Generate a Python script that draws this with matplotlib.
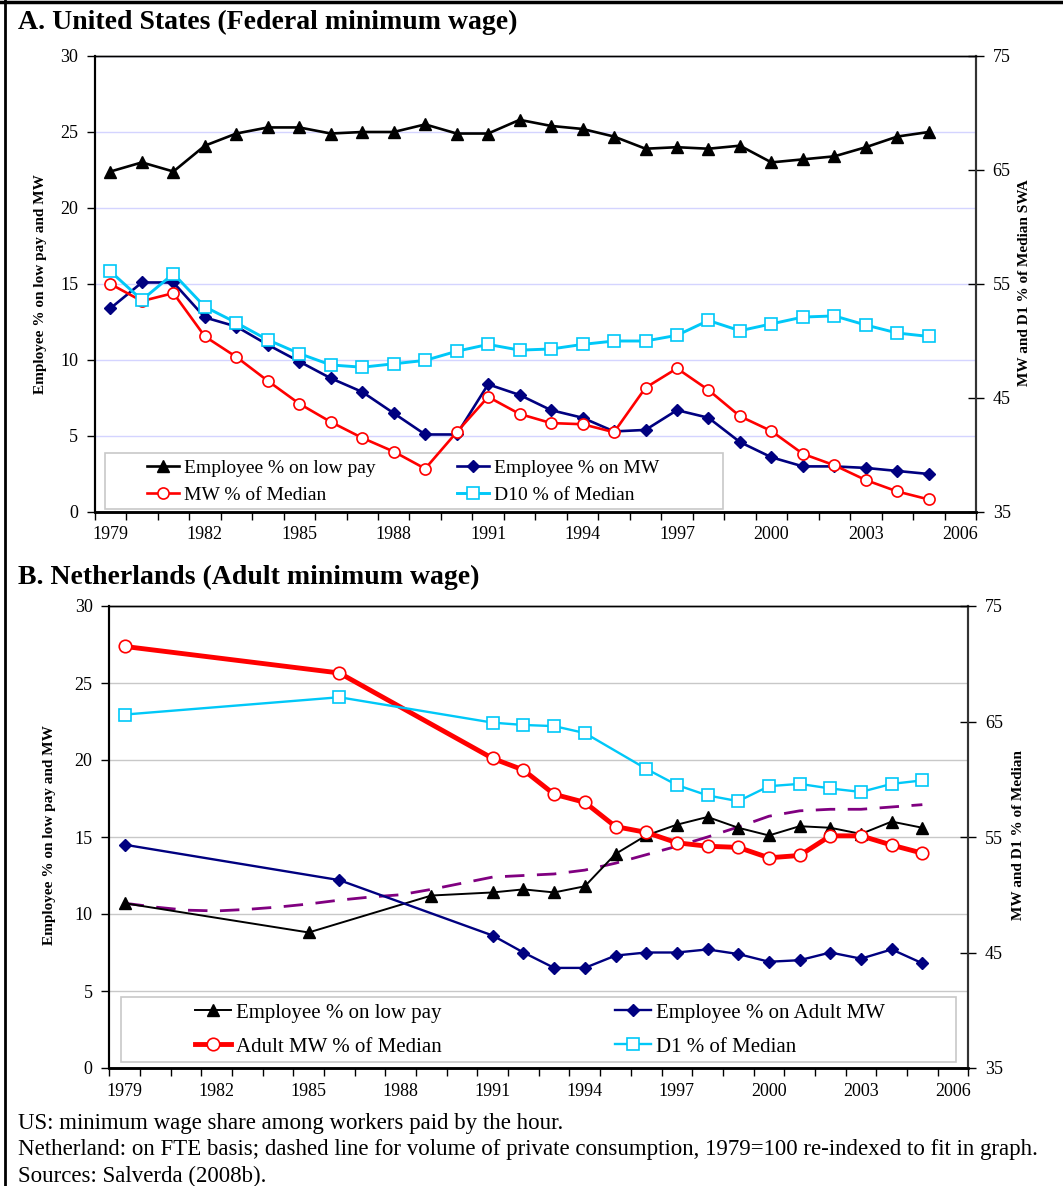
import numpy as np
import matplotlib.pyplot as plt
from matplotlib.lines import Line2D
from matplotlib.patches import Rectangle

plt.rcParams['font.family'] = ['Liberation Serif', 'DejaVu Serif']

# Panel A: United States, 1979-2005
us_years = list(range(1979, 2006))
us_low_pay = [22.4, 23.0, 22.4, 24.1, 24.9, 25.3, 25.3, 24.9, 25.0, 25.0,
              25.5, 24.9, 24.9, 25.8, 25.4, 25.2, 24.7, 23.9, 24.0, 23.9,
              24.1, 23.0, 23.2, 23.4, 24.0, 24.7, 25.0]
us_on_mw = [13.4, 15.1, 15.1, 12.8, 12.2, 11.0, 9.9, 8.8, 7.9, 6.5,
            5.1, 5.1, 8.4, 7.7, 6.7, 6.2, 5.3, 5.4, 6.7, 6.2,
            4.6, 3.6, 3.0, 3.0, 2.9, 2.7, 2.5]
us_mw_median = [55.0, 53.5, 54.2, 50.4, 48.6, 46.5, 44.5, 42.9, 41.5, 40.3,
                38.8, 42.0, 45.1, 43.6, 42.8, 42.7, 42.0, 45.9, 47.6, 45.7,
                43.4, 42.1, 40.1, 39.1, 37.8, 36.8, 36.1]
us_d10_median = [56.1, 53.6, 55.9, 53.0, 51.6, 50.1, 48.9, 47.9, 47.7, 48.0,
                 48.3, 49.1, 49.7, 49.2, 49.3, 49.7, 50.0, 50.0, 50.5, 51.8,
                 50.9, 51.5, 52.1, 52.2, 51.4, 50.7, 50.4]

# Panel B: Netherlands (gaps in the early years)
nl_low_pay_years = [1979, 1985, 1989] + list(range(1991, 2006))
nl_low_pay = [10.7, 8.8, 11.2, 11.4, 11.6, 11.4, 11.8, 13.9, 15.1, 15.8,
              16.3, 15.6, 15.1, 15.7, 15.6, 15.2, 16.0, 15.6]
nl_mw_years = [1979, 1986] + list(range(1991, 2006))
nl_on_mw = [14.5, 12.2, 8.6, 7.5, 6.5, 6.5, 7.3, 7.5, 7.5, 7.7,
            7.4, 6.9, 7.0, 7.5, 7.1, 7.7, 6.8]
nl_mw_median = [71.5, 69.2, 61.8, 60.8, 58.7, 58.0, 55.9, 55.4, 54.5, 54.2,
                54.1, 53.2, 53.4, 55.1, 55.1, 54.3, 53.6]
nl_d1_years = [1979, 1986, 1991, 1992, 1993, 1994] + list(range(1996, 2006))
nl_d1_median = [65.6, 67.1, 64.9, 64.7, 64.6, 64.0, 60.9, 59.5, 58.6, 58.1,
                59.4, 59.6, 59.2, 58.9, 59.6, 59.9]
# private consumption volume, re-indexed onto the left scale
nl_cons_years = list(range(1979, 2006))
nl_consumption = [10.7, 10.45, 10.25, 10.2, 10.3, 10.45, 10.65, 10.9, 11.1, 11.25,
                  11.6, 12.0, 12.4, 12.5, 12.6, 12.85, 13.3, 13.85, 14.4, 15.0,
                  15.65, 16.35, 16.7, 16.8, 16.8, 16.95, 17.1]

year_labels = list(range(1979, 2007, 3))

NAVY, RED, CYAN, PURPLE = '#000080', '#ff0000', '#00c8f8', '#800080'

W, H = 1063, 1186
fig = plt.figure(figsize=(W / 100, H / 100), dpi=100)


def fx(x):
    return x / W


def fy(y):
    return 1 - y / H


def px_rect(x0, y0, x1, y1):
    return [fx(x0), fy(y1), (x1 - x0) / W, (y1 - y0) / H]


def setup_axes(ax, ax2, grid_color, xpad):
    ax.set_xlim(1978.5, 2006.5)
    ax.set_ylim(0, 30)
    ax.set_yticks(range(0, 31, 5))
    ax.set_xticks(year_labels)
    ax.set_xticks(np.arange(1978.5, 2007, 1), minor=True)
    ax.tick_params(axis='x', which='major', length=0, pad=xpad, labelsize=13)
    ax.tick_params(axis='x', which='minor', length=6, width=1, direction='out')
    ax.tick_params(axis='y', length=6, width=1, direction='out', pad=6,
                   labelsize=13)
    ax.grid(axis='y', color=grid_color, lw=1)
    ax.set_axisbelow(True)
    ax2.set_ylim(35, 75)
    ax2.set_yticks(range(35, 76, 10))
    ax2.tick_params(axis='y', length=12, width=1, direction='inout', pad=6,
                    labelsize=13)
    for a in (ax, ax2):
        a.spines['left'].set_linewidth(1.5)
        a.spines['bottom'].set_linewidth(1.8)
        a.spines['right'].set_linewidth(1.5)
        a.spines['right'].set_color('#333333')
        a.spines['top'].set_linewidth(1.0)


def legend_box(ax, x0, y0, x1, y1):
    # white frame sitting under the data lines
    ax.add_patch(Rectangle((fx(x0), fy(y1)), (x1 - x0) / W, (y1 - y0) / H,
                           transform=fig.transFigure, facecolor='white',
                           edgecolor='#c8c8c8', lw=1.2, zorder=1.2,
                           clip_on=False))


# ---------------- Panel A ----------------
axA = fig.add_axes(px_rect(94.7, 56, 976, 512))
axA2 = axA.twinx()
setup_axes(axA, axA2, '#d4d4ff', 10)

lA1, = axA.plot(us_years, us_low_pay, color='black', lw=1.9, marker='^', ms=8,
                label='Employee % on low pay', zorder=3)
lA2, = axA.plot(us_years, us_on_mw, color=NAVY, lw=1.9, marker='D', ms=6,
                label='Employee % on MW', zorder=3)
lA3, = axA2.plot(us_years, us_mw_median, color=RED, lw=1.9, marker='o', ms=8,
                 mfc='white', mec=RED, mew=1.2, label='MW % of Median')
lA4, = axA2.plot(us_years, us_d10_median, color=CYAN, lw=2.1, marker='s', ms=8,
                 mfc='white', mec=CYAN, mew=1.2, label='D10 % of Median')

legend_box(axA, 105, 453, 722.6, 509)
legA = axA.legend(handles=[lA1, lA3, lA2, lA4], ncol=2, loc='upper left',
                  bbox_to_anchor=(fx(147), fy(459)),
                  bbox_transform=fig.transFigure, borderaxespad=0,
                  borderpad=0, fontsize=14, frameon=False, handlelength=1.65,
                  handletextpad=0.25, columnspacing=4.2, labelspacing=0.5)
legA.set_zorder(1.5)

fig.text(fx(41), fy(284), 'Employee % on low pay and MW', rotation=90,
         fontsize=11, fontweight='bold', ha='center', va='center')
fig.text(fx(1025), fy(283), 'MW and D1 % of Median SWA', rotation=90,
         fontsize=11, fontweight='bold', ha='center', va='center')

# ---------------- Panel B ----------------
axB = fig.add_axes(px_rect(109.2, 606, 968.4, 1068))
axB2 = axB.twinx()
setup_axes(axB, axB2, '#c8c8c8', 11)

axB.plot(nl_cons_years, nl_consumption, color=PURPLE, lw=2.0, dashes=(7, 4.5),
         zorder=3)
lB1, = axB.plot(nl_low_pay_years, nl_low_pay, color='black', lw=1.4, marker='^',
                ms=8, label='Employee % on low pay', zorder=3)
lB2, = axB.plot(nl_mw_years, nl_on_mw, color=NAVY, lw=1.7, marker='D', ms=6,
                label='Employee % on Adult MW', zorder=3)
lB3, = axB2.plot(nl_mw_years, nl_mw_median, color=RED, lw=3.5, marker='o', ms=9,
                 mfc='white', mec=RED, mew=1.2, label='Adult MW % of Median')
lB4, = axB2.plot(nl_d1_years, nl_d1_median, color=CYAN, lw=1.7, marker='s', ms=8,
                 mfc='white', mec=CYAN, mew=1.2, label='D1 % of Median')

legend_box(axB, 121, 997, 955.6, 1062)
legB = axB.legend(handles=[lB1, lB3, lB2, lB4], ncol=2, loc='upper left',
                  bbox_to_anchor=(fx(195), fy(1003)),
                  bbox_transform=fig.transFigure, borderaxespad=0,
                  borderpad=0, fontsize=15, frameon=False, handlelength=1.73,
                  handletextpad=0.24, columnspacing=8.3, labelspacing=0.7)
legB.set_zorder(1.5)

fig.text(fx(50), fy(835), 'Employee % on low pay and MW', rotation=90,
         fontsize=11, fontweight='bold', ha='center', va='center')
fig.text(fx(1018), fy(835), 'MW and D1 % of Median', rotation=90,
         fontsize=11, fontweight='bold', ha='center', va='center')

# ---------------- titles, notes, frame ----------------
fig.text(fx(18), fy(22), 'A. United States (Federal minimum wage)',
         fontsize=20, fontweight='bold', va='center', ha='left')
fig.text(fx(18), fy(577), 'B. Netherlands (Adult minimum wage)',
         fontsize=20, fontweight='bold', va='center', ha='left')

notes = ['US: minimum wage share among workers paid by the hour.',
         'Netherland: on FTE basis; dashed line for volume of private consumption, '
         '1979=100 re-indexed to fit in graph.',
         'Sources: Salverda (2008b).']
for i, line in enumerate(notes):
    fig.text(fx(18), fy(1124 + 26 * i), line, fontsize=16.5,
             va='center', ha='left')

fig.add_artist(Line2D([0, 1], [fy(1.5), fy(1.5)], color='black', lw=2.5,
                      transform=fig.transFigure))
fig.add_artist(Line2D([fx(4.5), fx(4.5)], [0, 1], color='black', lw=2.0,
                      transform=fig.transFigure))

fig.savefig('out.png', dpi=100)
